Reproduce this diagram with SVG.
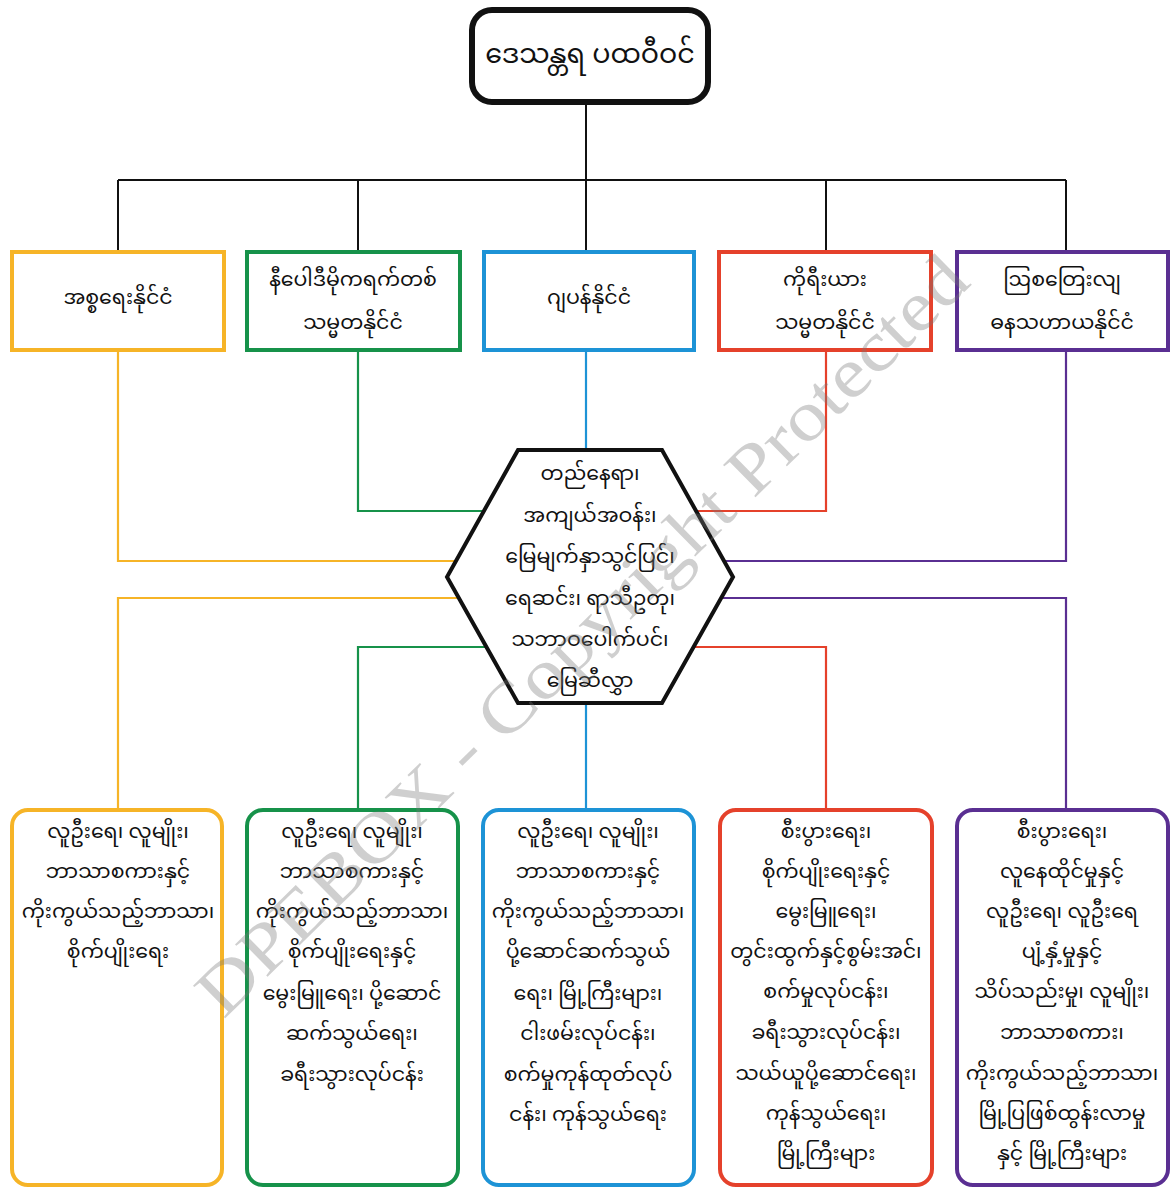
<svg xmlns="http://www.w3.org/2000/svg" width="1171" height="1189" viewBox="0 0 1171 1189">
<style>
text{font-family:"Noto Sans Myanmar","Padauk","Myanmar Text","Noto Sans",sans-serif;fill:#111;text-anchor:middle;dominant-baseline:central}
.t{font-size:20.5px}
.h{font-size:27px}
.box{fill:#fff;stroke-width:4}
.or{stroke:#f6b427}.gr{stroke:#16924a}.bl{stroke:#1d93d6}.rd{stroke:#e5412b}.pu{stroke:#5a2f92}
.k{stroke:#111;stroke-width:2;fill:none}
.c{fill:none;stroke-width:2.2}
.wm{font-family:"Liberation Serif",serif;font-size:70px;fill:#777;opacity:0.35;dominant-baseline:auto}
</style>
<rect width="1171" height="1189" fill="#fff"/>
<g id="connectors">
<path class="k" d="M586 102V180M118 180H1066M118 180V252M358 180V252M586 180V252M826 180V252M1066 180V252"/>
<path class="c or" d="M118 350V561H457M458 598H118V810"/>
<path class="c gr" d="M358 350V511H485M487 647H358V810"/>
<path class="c bl" d="M586 350V451M586 703V810"/>
<path class="c rd" d="M826 350V511H695M693 647H826V810"/>
<path class="c pu" d="M1066 350V561H723M721 598H1066V810"/>
</g>
<g id="top">
<rect x="472" y="10" width="236" height="92" rx="20" fill="#fff" stroke="#111" stroke-width="6"/>
<text class="h" x="590" y="56">ဒေသန္တရ ပထဝီဝင်</text>
</g>
<g id="israel"><rect class="box or" x="12" y="252" width="212" height="98"/><text class="t" x="118" y="299">အစ္စရေးနိုင်ငံ</text></g>
<g id="nepal"><rect class="box gr" x="247" y="252" width="213" height="98"/><text class="t" x="353" y="281">နီပေါဒီမိုကရက်တစ်</text><text class="t" x="353" y="324">သမ္မတနိုင်ငံ</text></g>
<g id="japan"><rect class="box bl" x="484" y="252" width="210" height="98"/><text class="t" x="589" y="299">ဂျပန်နိုင်ငံ</text></g>
<g id="korea"><rect class="box rd" x="719" y="252" width="212" height="98"/><text class="t" x="825" y="281">ကိုရီးယား</text><text class="t" x="825" y="324">သမ္မတနိုင်ငံ</text></g>
<g id="australia"><rect class="box pu" x="957" y="252" width="211" height="98"/><text class="t" x="1062" y="281">ဩစတြေးလျ</text><text class="t" x="1062" y="324">ဓနသဟာယနိုင်ငံ</text></g>
<g id="hex">
<polygon points="518,450 662,450 733,577 662,703 518,703 447,577" fill="#fff" stroke="#111" stroke-width="4"/>
<text class="t" x="590" y="475">တည်နေရာ၊</text>
<text class="t" x="590" y="517">အကျယ်အဝန်း၊</text>
<text class="t" x="590" y="558">မြေမျက်နှာသွင်ပြင်၊</text>
<text class="t" x="590" y="600">ရေဆင်း၊ ရာသီဥတု၊</text>
<text class="t" x="590" y="641">သဘာဝပေါက်ပင်၊</text>
<text class="t" x="590" y="682">မြေဆီလွှာ</text>
</g>
<g id="b1"><rect class="box or" x="12" y="810" width="210" height="375" rx="16"/>
<text class="t" x="118" y="833">လူဦးရေ၊ လူမျိုး၊</text><text class="t" x="118" y="873">ဘာသာစကားနှင့်</text><text class="t" x="118" y="913">ကိုးကွယ်သည့်ဘာသာ၊</text><text class="t" x="118" y="953">စိုက်ပျိုးရေး</text></g>
<g id="b2"><rect class="box gr" x="247" y="810" width="211" height="375" rx="16"/>
<text class="t" x="352" y="833">လူဦးရေ၊ လူမျိုး၊</text><text class="t" x="352" y="873">ဘာသာစကားနှင့်</text><text class="t" x="352" y="913">ကိုးကွယ်သည့်ဘာသာ၊</text><text class="t" x="352" y="953">စိုက်ပျိုးရေးနှင့်</text><text class="t" x="352" y="995">မွေးမြူရေး၊ ပို့ဆောင်</text><text class="t" x="352" y="1035">ဆက်သွယ်ရေး၊</text><text class="t" x="352" y="1076">ခရီးသွားလုပ်ငန်း</text></g>
<g id="b3"><rect class="box bl" x="483" y="810" width="211" height="375" rx="16"/>
<text class="t" x="588" y="833">လူဦးရေ၊ လူမျိုး၊</text><text class="t" x="588" y="873">ဘာသာစကားနှင့်</text><text class="t" x="588" y="913">ကိုးကွယ်သည့်ဘာသာ၊</text><text class="t" x="588" y="953">ပို့ဆောင်ဆက်သွယ်</text><text class="t" x="588" y="995">ရေး၊ မြို့ကြီးများ၊</text><text class="t" x="588" y="1035">ငါးဖမ်းလုပ်ငန်း၊</text><text class="t" x="588" y="1076">စက်မှုကုန်ထုတ်လုပ်</text><text class="t" x="588" y="1116">ငန်း၊ ကုန်သွယ်ရေး</text></g>
<g id="b4"><rect class="box rd" x="720" y="810" width="212" height="375" rx="16"/>
<text class="t" x="826" y="833">စီးပွားရေး၊</text><text class="t" x="826" y="873">စိုက်ပျိုးရေးနှင့်</text><text class="t" x="826" y="913">မွေးမြူရေး၊</text><text class="t" x="826" y="953">တွင်းထွက်နှင့်စွမ်းအင်၊</text><text class="t" x="826" y="993">စက်မှုလုပ်ငန်း၊</text><text class="t" x="826" y="1034">ခရီးသွားလုပ်ငန်း၊</text><text class="t" x="826" y="1075">သယ်ယူပို့ဆောင်ရေး၊</text><text class="t" x="826" y="1115">ကုန်သွယ်ရေး၊</text><text class="t" x="826" y="1155">မြို့ကြီးများ</text></g>
<g id="b5"><rect class="box pu" x="957" y="810" width="211" height="375" rx="16"/>
<text class="t" x="1062" y="833">စီးပွားရေး၊</text><text class="t" x="1062" y="873">လူနေထိုင်မှုနှင့်</text><text class="t" x="1062" y="913">လူဦးရေ၊ လူဦးရေ</text><text class="t" x="1062" y="953">ပျံ့နှံ့မှုနှင့်</text><text class="t" x="1062" y="993">သိပ်သည်းမှု၊ လူမျိုး၊</text><text class="t" x="1062" y="1034">ဘာသာစကား၊</text><text class="t" x="1062" y="1075">ကိုးကွယ်သည့်ဘာသာ၊</text><text class="t" x="1062" y="1115">မြို့ပြဖြစ်ထွန်းလာမှု</text><text class="t" x="1062" y="1155">နှင့် မြို့ကြီးများ</text></g>
<text class="wm" x="0" y="0" text-anchor="middle" textLength="1050" lengthAdjust="spacingAndGlyphs" transform="translate(598,652) rotate(-44.5)">DPEBOX - Copyright Protected</text>
</svg>
